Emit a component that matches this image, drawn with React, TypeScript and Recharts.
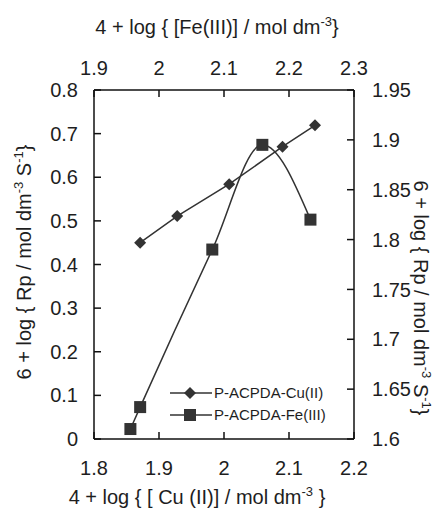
import { LineChart, Line, XAxis, YAxis } from 'recharts';

const cuX = [1.871, 1.928, 2.008, 2.09, 2.14];
const cuY = [0.45, 0.511, 0.584, 0.67, 0.719];
const feX = [1.956, 1.971, 2.082, 2.159, 2.233];
const feY = [1.61, 1.632, 1.79, 1.895, 1.82];

const bottomTicks = [1.8, 1.9, 2, 2.1, 2.2];
const topTicks = [1.9, 2, 2.1, 2.2, 2.3];
const leftTicks = [0, 0.1, 0.2, 0.3, 0.4, 0.5, 0.6, 0.7, 0.8];
const rightTicks = [1.6, 1.65, 1.7, 1.75, 1.8, 1.85, 1.9, 1.95];

const seriesNames = ['P-ACPDA-Cu(II)', 'P-ACPDA-Fe(III)'];

const cuData = cuX.map((x, i) => ({ x, y: cuY[i] }));
const feData = feX.map((x, i) => ({ x, y: feY[i] }));

const font = '"Liberation Sans", Arial, sans-serif';
const ink = '#1e1e1e';
const mark = '#333';
const axisStyle = { stroke: '#111', strokeWidth: 1.5 };
const tickStyle = { fontSize: 20, fill: ink, fontFamily: font };

const Diamond = (p: any) => {
  const { cx, cy, index } = p;
  const r = 6;
  return <polygon key={'d' + index} points={`${cx},${cy - r} ${cx + r},${cy} ${cx},${cy + r} ${cx - r},${cy}`} fill={mark} />;
};

const Square = (p: any) => {
  const { cx, cy, index } = p;
  return <rect key={'s' + index} x={cx - 6} y={cy - 6} width={12} height={12} fill={mark} />;
};

const Sup = ({ t }: { t: string }) => (
  <>
    <tspan dy={-8} fontSize={13}>{t}</tspan>
    <tspan dy={8}> </tspan>
  </>
);

// legend drawn by hand, at the spot it has in the figure
const legendX = 170;
const legendY = 393;

function App() {
  return (
    <div style={{ position: 'absolute', left: 0, top: 0, width: 437, height: 515, background: '#fff' }}>
      <LineChart width={437} height={515} margin={{ top: 50, right: 23, left: 34, bottom: 36 }}>
        <XAxis xAxisId="cu" type="number" dataKey="x" domain={[1.8, 2.2]} ticks={bottomTicks} interval={0}
          allowDataOverflow height={40} axisLine={axisStyle} tickLine={axisStyle} tickSize={-7} tickMargin={29}
          tick={tickStyle} />
        <XAxis xAxisId="fe" orientation="top" type="number" dataKey="x" domain={[1.9, 2.3]} ticks={topTicks} interval={0}
          allowDataOverflow height={40} axisLine={axisStyle} tickLine={axisStyle} tickSize={-7} tickMargin={22}
          tick={tickStyle} />
        <YAxis yAxisId="cu" type="number" dataKey="y" domain={[0, 0.8]} ticks={leftTicks} interval={0}
          allowDataOverflow width={60} axisLine={axisStyle} tickLine={axisStyle} tickSize={-7} tickMargin={23}
          tick={tickStyle} />
        <YAxis yAxisId="fe" orientation="right" type="number" dataKey="y" domain={[1.6, 1.95]} ticks={rightTicks} interval={0}
          allowDataOverflow width={60} axisLine={axisStyle} tickLine={axisStyle} tickSize={-7} tickMargin={25}
          tick={tickStyle} />
        <Line data={cuData} xAxisId="cu" yAxisId="cu" dataKey="y" type="linear" stroke={mark} strokeWidth={1.5}
          dot={Diamond} activeDot={false} isAnimationActive={false} name={seriesNames[0]} />
        <Line data={feData} xAxisId="fe" yAxisId="fe" dataKey="y" type="monotone" stroke={mark} strokeWidth={1.5}
          dot={Square} activeDot={false} isAnimationActive={false} name={seriesNames[1]} />
      </LineChart>
      <svg width={437} height={515} style={{ position: 'absolute', left: 0, top: 0, pointerEvents: 'none' }}
        fontFamily={font} fontSize={20} fill={ink}>
        <text x={217} y={34} textAnchor="middle">4 + log {'{'} [Fe(III)] / mol dm<tspan dy={-8} fontSize={13}>-3</tspan><tspan dy={8}>{'}'}</tspan></text>
        <text x={197} y={504} textAnchor="middle">4 + log {'{'} [ Cu (II)] / mol dm<tspan dy={-8} fontSize={13}>-3</tspan><tspan dy={8}> {'}'}</tspan></text>
        <text x={24} y={262} dy={7} textAnchor="middle" transform="rotate(-90 24 262)">
          6 + log {'{'} Rp / mol dm<Sup t="-3" />S<tspan dy={-8} fontSize={13}>-1</tspan><tspan dy={8}>{'}'}</tspan>
        </text>
        <text x={421} y={298} dy={7} textAnchor="middle" transform="rotate(90 421 298)">
          6 + log {'{'} Rp / mol dm<Sup t="-3" />S<tspan dy={-8} fontSize={13}>-1</tspan><tspan dy={8}>{'}'}</tspan>
        </text>
        {seriesNames.map((n, i) => {
          const y = legendY + i * 22;
          const cx = legendX + 20;
          return (
            <g key={n}>
              <line x1={legendX} y1={y} x2={legendX + 42} y2={y} stroke={mark} strokeWidth={1.5} />
              {i == 0
                ? <polygon points={`${cx},${y - 6} ${cx + 6},${y} ${cx},${y + 6} ${cx - 6},${y}`} fill={mark} />
                : <rect x={cx - 6} y={y - 6} width={12} height={12} fill={mark} />}
              <text x={legendX + 44} y={y + 5} fontSize={15}>{n}</text>
            </g>
          );
        })}
      </svg>
    </div>
  );
}

export default App;
